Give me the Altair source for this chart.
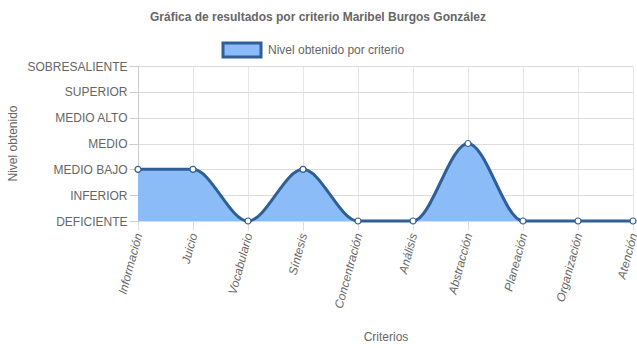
import altair as alt
import pandas as pd

criterios = ["Información", "Juicio", "Vocabulario", "Síntesis", "Concentración",
             "Análisis", "Abstracción", "Planeación", "Organización", "Atención"]
valores = [2, 2, 0, 2, 0, 0, 3, 0, 0, 0]
niveles = ["DEFICIENTE", "INFERIOR", "MEDIO BAJO", "MEDIO", "MEDIO ALTO",
           "SUPERIOR", "SOBRESALIENTE"]
titulo = "Gráfica de resultados por criterio Maribel Burgos González"
serie = "Nivel obtenido por criterio"

df = pd.DataFrame({"criterio": criterios, "valor": valores})

FONT = "Liberation Sans"
GRAY = "#666666"
LINE = "#2f5f96"
FILL = "#8bbcf7"
W, H = 495, 155

label_expr = "[" + ",".join(f"'{n}'" for n in niveles) + "][datum.value]"

x_scale = alt.Scale(type="point", padding=0, domain=criterios)
y_scale = alt.Scale(domain=[0, 6], nice=False)

x_axis = alt.Axis(title="Criterios", labelAngle=-75, labelAlign="right",
                  labelBaseline="middle", labelFontStyle="italic",
                  labelFont=FONT, labelFontSize=12, labelColor=GRAY,
                  labelPadding=3, tickSize=9, tickColor="#dddddd",
                  domainColor="#dddddd", grid=True, gridColor="#e6e6e6",
                  titleFont=FONT, titleFontSize=12, titleFontWeight="normal",
                  titleColor=GRAY, titleY=115, titleBaseline="middle",
                  labelOverlap=False, labelFlush=False)
y_axis = alt.Axis(title="Nivel obtenido", values=[0, 1, 2, 3, 4, 5, 6], tickCount=7,
                  labelExpr=label_expr, labelFont=FONT, labelFontSize=12,
                  labelColor=GRAY, labelPadding=2, tickSize=9,
                  labelOverlap=False, labelFlush=False,
                  tickColor="#cccccc", domainColor="#cccccc",
                  grid=True, gridColor="#dcdcdc",
                  titleFont=FONT, titleFontSize=12, titleFontWeight="normal",
                  titleColor=GRAY, titleX=-126, titleY=77,
                  titleAngle=-90, titleBaseline="middle", titleAlign="center")

x_enc = alt.X("criterio:N", sort=criterios, scale=x_scale, axis=x_axis)
y_enc = alt.Y("valor:Q", scale=y_scale, axis=y_axis)

base = alt.Chart(df)
area = base.mark_area(interpolate="monotone", color=FILL, opacity=1).encode(x=x_enc, y=y_enc)
line = base.mark_line(interpolate="monotone", color=LINE, strokeWidth=3).encode(
    x=x_enc, y=y_enc)
pts = base.mark_point(filled=True, fill="white", stroke=LINE, strokeWidth=1.2,
                      size=36, opacity=1).encode(x=x_enc, y=y_enc)

tdf = pd.DataFrame({"t": [titulo]})
title_m = alt.Chart(tdf).mark_text(font=FONT, fontSize=12, fontWeight="bold",
                                   color=GRAY, align="center", baseline="middle").encode(
    x=alt.value(180), y=alt.value(-49), text="t:N")

ldf = pd.DataFrame({"t": [serie]})
leg_box = alt.Chart(ldf).mark_rect(fill=FILL, stroke=LINE, strokeWidth=3).encode(
    x=alt.value(85), x2=alt.value(123), y=alt.value(-23), y2=alt.value(-9))
leg_txt = alt.Chart(ldf).mark_text(font=FONT, fontSize=12, color=GRAY, align="left",
                                   baseline="middle").encode(
    x=alt.value(130), y=alt.value(-16), text="t:N")

chart = alt.layer(area, line, pts, title_m, leg_box, leg_txt).properties(
    width=W, height=H,
    autosize=alt.AutoSizeParams(type="none"),
    padding={"left": 138, "top": 66, "right": 4, "bottom": 127},
).configure_view(stroke=None).configure(background="white")

chart.save("out.html", embed_options={"renderer": "svg", "actions": False})
